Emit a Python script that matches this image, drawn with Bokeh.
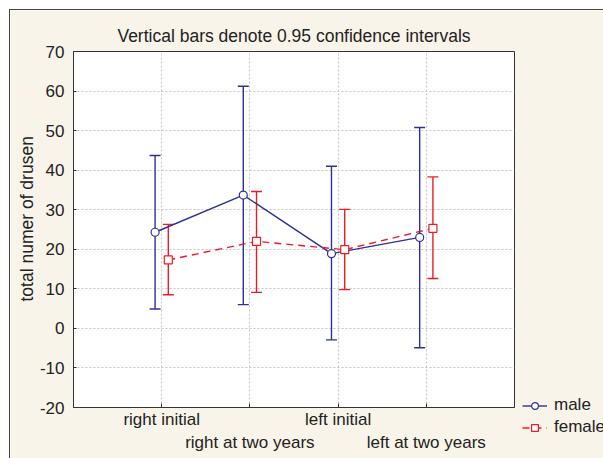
from bokeh.plotting import figure
from bokeh.models import (ColumnDataSource, Whisker, TeeHead, FixedTicker, LinearAxis,
                          Legend, LegendItem, Title, Range1d)
from bokeh.transform import dodge
from bokeh.embed import file_html
from bokeh.resources import INLINE

# ---- data ----
categories = ["right initial", "right at two years", "left initial", "left at two years"]
cat_pos = [1, 2, 3, 4]
male_mean = [24.3, 33.7, 18.9, 23.0]
male_upper = [43.7, 61.2, 41.0, 50.8]
male_lower = [4.9, 6.0, -2.9, -4.9]
female_mean = [17.3, 22.0, 19.9, 25.3]
female_upper = [26.3, 34.6, 30.1, 38.3]
female_lower = [8.5, 9.1, 9.8, 12.6]
y_ticks = [-20, -10, 0, 10, 20, 30, 40, 50, 60, 70]
y_tick_labels = ["-20", "-10", "0", "10", "20", "30", "40", "50", "60", "70"]

BLUE = "#2e3192"
RED = "#ed1c24"
BG = "#f8f4e9"
TXT = "#222222"
FONT = "Liberation Sans"
FS = "17px"

src_m = ColumnDataSource(dict(x=cat_pos, y=male_mean, up=male_upper, lo=male_lower))
src_f = ColumnDataSource(dict(x=cat_pos, y=female_mean, up=female_upper, lo=female_lower))

p = figure(frame_width=441, frame_height=356, output_backend="svg", toolbar_location=None,
           x_range=Range1d(0, 5), y_range=Range1d(-20, 70),
           x_axis_location=None, y_axis_location=None,
           min_border_left=63, min_border_right=89, min_border_top=41, min_border_bottom=51)
p.background_fill_color = "white"
p.border_fill_color = BG
p.outline_line_color = "#333333"
p.outline_line_width = 1
p.styles = {"position": "relative", "left": "9px", "top": "9px",
            "border-left": "1px solid #444444", "border-top": "1px solid #444444"}

# title
p.title.text = "Vertical bars denote 0.95 confidence intervals"
p.title.align = "center"
p.title.text_font = FONT
p.title.text_font_size = "17.5px"
p.title.text_font_style = "normal"
p.title.text_color = TXT
p.title.standoff = 11

# y axis
yax = LinearAxis(ticker=FixedTicker(ticks=y_ticks))
yax.major_label_overrides = dict(zip(y_ticks, y_tick_labels))
yax.major_label_text_font = FONT
yax.major_label_text_font_size = FS
yax.major_label_text_color = TXT
yax.major_tick_in = 3
yax.major_tick_out = 0
yax.minor_tick_line_color = None
yax.axis_line_color = "#333333"
yax.major_tick_line_color = "#333333"
yax.major_label_standoff = 9
p.add_layout(yax, "left")

ylab = Title(text="total numer of drusen", align="left", offset=106, standoff=0,
             text_font=FONT, text_font_size="17.5px", text_font_style="normal",
             text_color=TXT)
p.add_layout(ylab, "left")

# x axes (staggered labels)
xax1 = LinearAxis(ticker=FixedTicker(ticks=cat_pos))
xax1.major_label_overrides = {1: categories[0], 2: "", 3: categories[2], 4: ""}
xax2 = LinearAxis(ticker=FixedTicker(ticks=[2, 4]))
xax2.major_label_overrides = {2: categories[1], 4: categories[3]}
for ax in (xax1, xax2):
    ax.major_label_text_font = FONT
    ax.major_label_text_font_size = FS
    ax.major_label_text_color = TXT
    ax.minor_tick_line_color = None
xax1.major_tick_in = 4
xax1.major_tick_out = 0
xax1.axis_line_color = "#333333"
xax1.major_tick_line_color = "#333333"
xax1.major_label_standoff = 2
xax2.axis_line_color = None
xax2.major_tick_line_color = None
xax2.major_tick_in = 0
xax2.major_tick_out = 0
xax2.major_label_standoff = 1
p.add_layout(xax1, "below")
p.add_layout(xax2, "below")

# grids
p.xgrid.ticker = FixedTicker(ticks=cat_pos)
p.ygrid.ticker = FixedTicker(ticks=y_ticks)
for g in (p.xgrid, p.ygrid):
    g.grid_line_color = "#c4c4c4"
    g.grid_line_dash = "2 2"
    g.grid_line_width = 1

# error bars
def whisker(src, off, color):
    return Whisker(source=src, base=dodge("x", off), upper="up", lower="lo",
                   line_color=color, line_width=1.4,
                   upper_head=TeeHead(size=11, line_color=color, line_width=1.4),
                   lower_head=TeeHead(size=11, line_color=color, line_width=1.4))

p.add_layout(whisker(src_m, -0.075, BLUE))
p.add_layout(whisker(src_f, 0.075, RED))

# lines and markers
lm = p.line(dodge("x", -0.075), "y", source=src_m, line_color=BLUE, line_width=1.4)
cm = p.scatter(dodge("x", -0.075), "y", source=src_m, marker="circle", size=8,
               line_color=BLUE, fill_color="white", line_width=1.2)
lf = p.line(dodge("x", 0.075), "y", source=src_f, line_color=RED, line_width=1.4,
            line_dash="7 5")
cf = p.scatter(dodge("x", 0.075), "y", source=src_f, marker="square", size=8,
               line_color=RED, fill_color="white", line_width=1.2)

legend = Legend(items=[LegendItem(label="male", renderers=[lm, cm]),
                       LegendItem(label="female", renderers=[lf, cf])],
                location=(8, -30), orientation="vertical")
legend.background_fill_alpha = 0
legend.border_line_color = None
legend.padding = 0
legend.margin = 0
legend.spacing = 2
legend.glyph_width = 25
legend.glyph_height = 17
legend.label_height = 17
legend.label_standoff = 7
legend.label_text_font = FONT
legend.label_text_font_size = FS
legend.label_text_color = TXT
p.add_layout(legend, "right")

open("out.html", "w").write(file_html(p, INLINE))
